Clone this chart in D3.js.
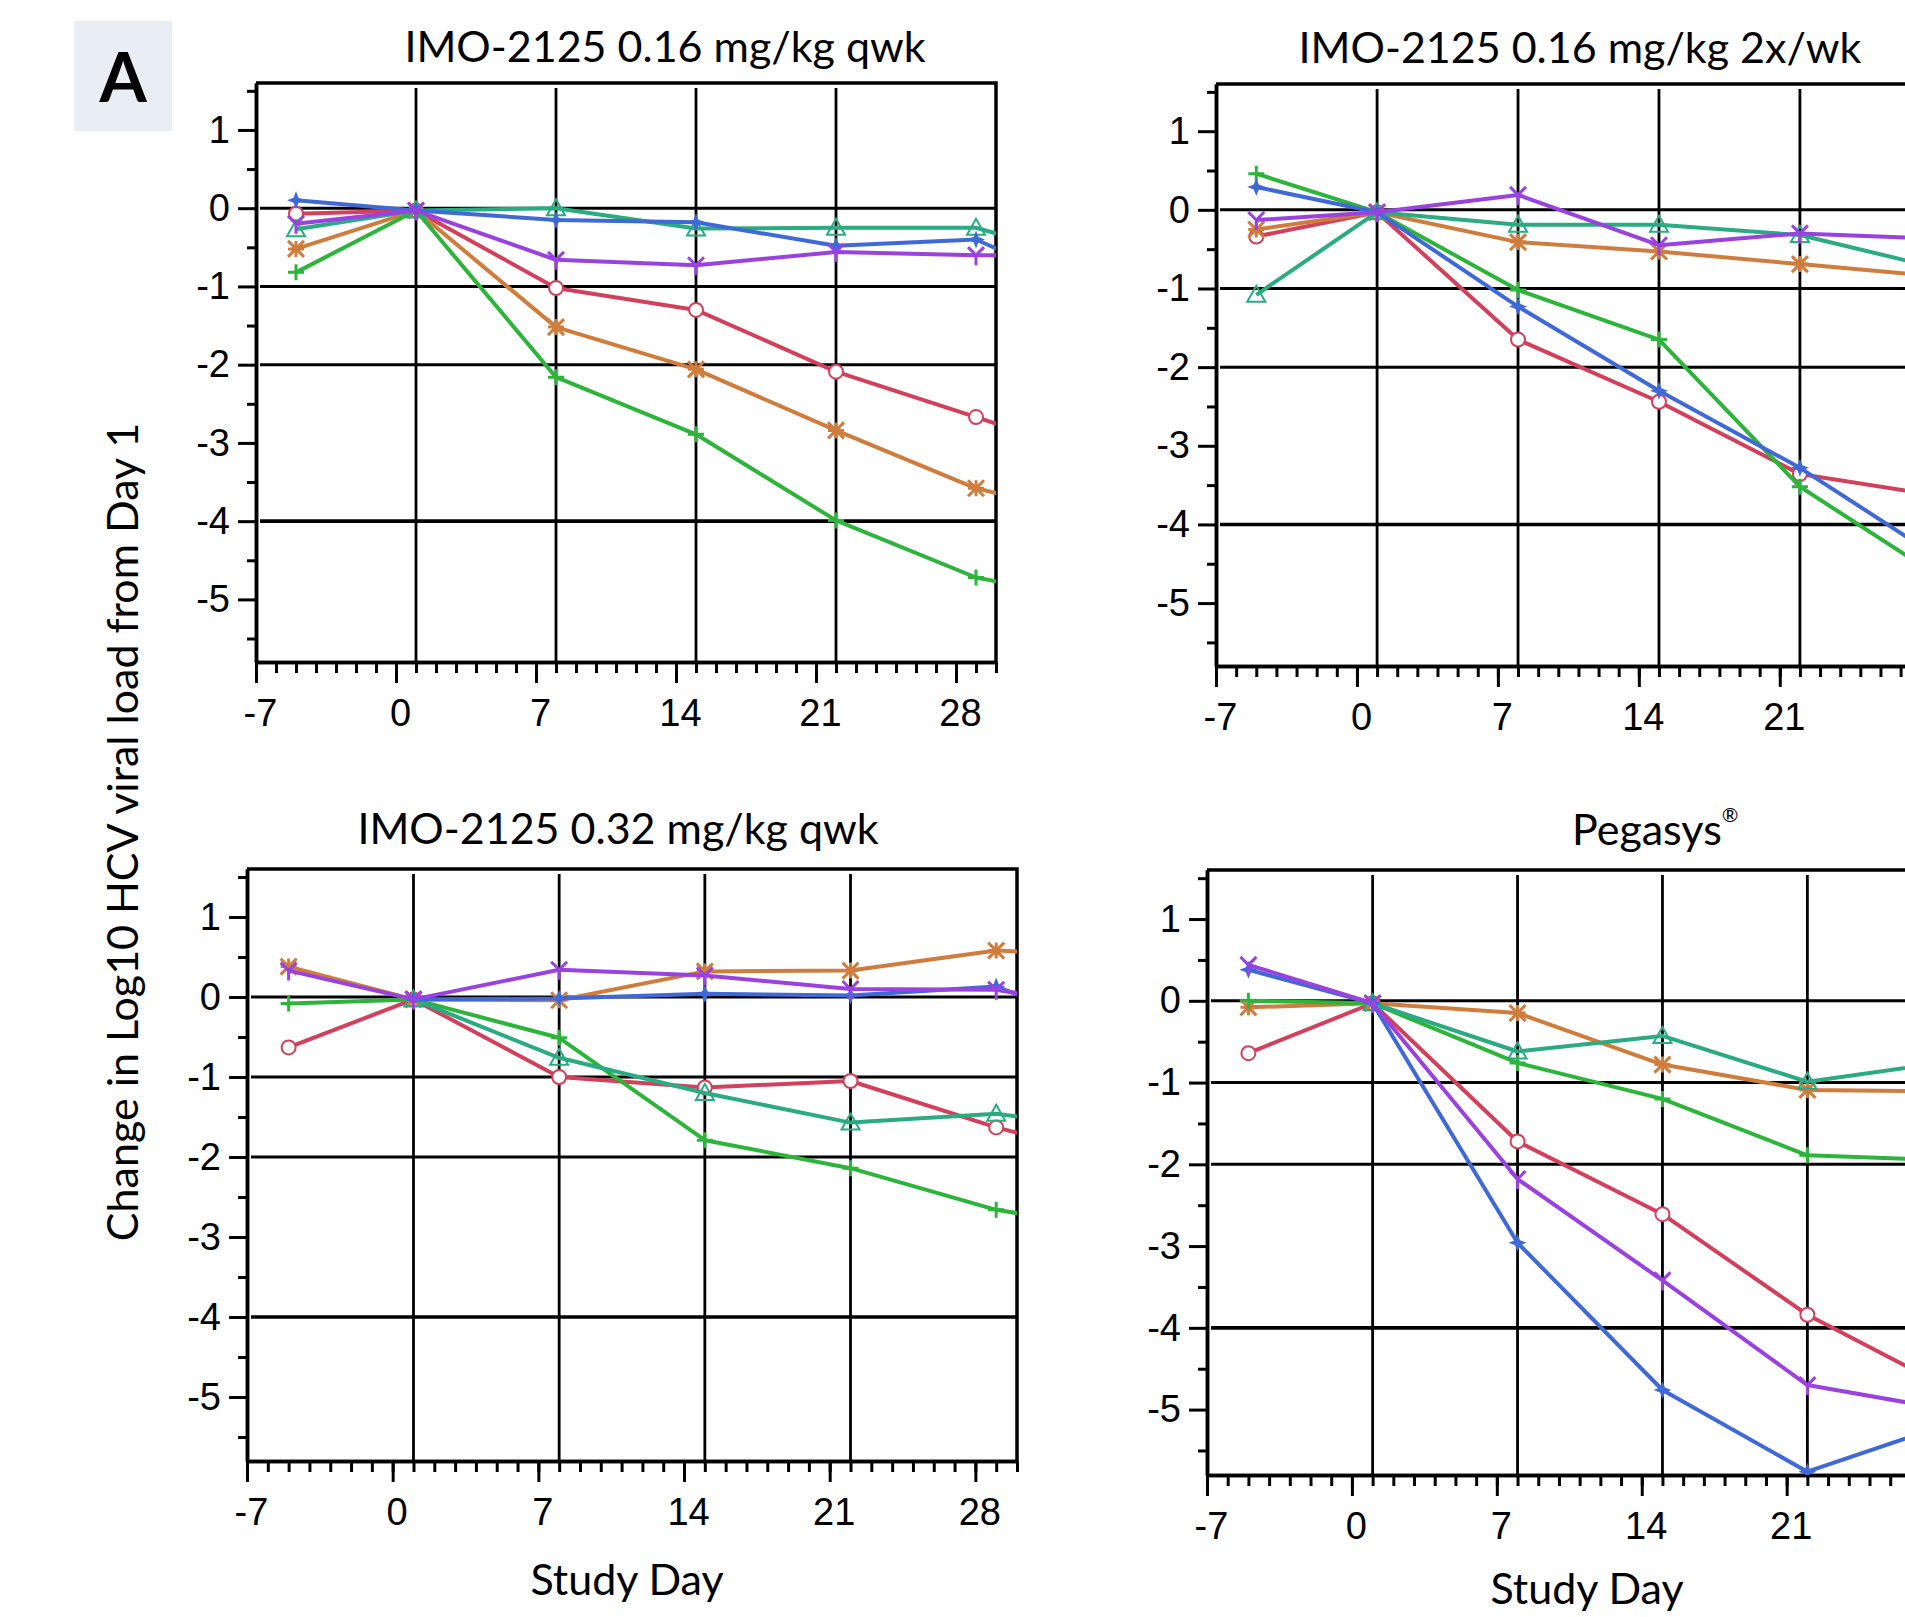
<!DOCTYPE html>
<html>
<head>
<meta charset="utf-8">
<script src="https://cdnjs.cloudflare.com/ajax/libs/d3/7.8.5/d3.min.js"></script>
<style>
  html, body { margin: 0; padding: 0; background: #fff; }
  svg { display: block; }
  .tick text { font-family: "Liberation Sans", Arial, sans-serif; font-size: 38px; fill: #000; }
  .ttl { font-family: Lato, "Open Sans", sans-serif; font-size: 43px; fill: #000; }
</style>
</head>
<body>
<svg id="chart" width="1905" height="1617"></svg>
<script>
// visit days; day 36 is the next visit, only its first piece shows inside the frame
const visitDays = [-5, 1, 8, 15, 22, 29, 36];
const panelTitles = ['IMO-2125 0.16 mg/kg qwk', 'IMO-2125 0.16 mg/kg 2x/wk', 'IMO-2125 0.32 mg/kg qwk', 'Pegasys'];
const xTicks = [-7, 0, 7, 14, 21, 28];
const yTicks = [1, 0, -1, -2, -3, -4, -5];
const gridDays = [1, 8, 15, 22];
const gridValues = [0, -1, -2, -4];

// IMO-2125 0.16 mg/kg qwk
const p1Red    = [-0.07, -0.03, -1.02, -1.30, -2.09, -2.67, -3.25];
const p1Orange = [-0.52, -0.03, -1.52, -2.06, -2.84, -3.58, -4.00];
const p1Green  = [-0.82, -0.03, -2.16, -2.89, -3.99, -4.72, -5.05];
const p1Teal   = [-0.27, -0.03,  0.00, -0.26, -0.25, -0.25, -0.75];
const p1Blue   = [ 0.10, -0.03, -0.15, -0.18, -0.48, -0.40, -1.20];
const p1Purple = [-0.20, -0.03, -0.66, -0.73, -0.56, -0.60, -0.60];

// IMO-2125 0.16 mg/kg 2x/wk
const p2Red    = [-0.34, -0.03, -1.65, -2.44, -3.36, -3.64, null];
const p2Orange = [-0.25, -0.03, -0.41, -0.53, -0.69, -0.85, null];
const p2Green  = [ 0.46, -0.03, -1.02, -1.65, -3.52, -4.68, null];
const p2Teal   = [-1.08, -0.03, -0.19, -0.19, -0.32, -0.75, null];
const p2Blue   = [ 0.29, -0.03, -1.23, -2.30, -3.28, -4.44, null];
const p2Purple = [-0.13, -0.03,  0.19, -0.45, -0.30, -0.37, null];

// IMO-2125 0.32 mg/kg qwk
const p3Red    = [-0.63, -0.03, -1.00, -1.13, -1.05, -1.63, -2.10];
const p3Orange = [ 0.38, -0.03, -0.04,  0.32,  0.33,  0.58,  0.50];
const p3Green  = [-0.08, -0.03, -0.51, -1.79, -2.14, -2.66, -2.95];
const p3Teal   = [ null, -0.03, -0.76, -1.20, -1.57, -1.46, -1.70];
const p3Blue   = [ null, -0.03, -0.02,  0.04,  0.02,  0.13, -0.55];
const p3Purple = [ 0.33, -0.03,  0.34,  0.27,  0.10,  0.09, -0.20];

// Pegasys
const p4Red    = [-0.64, -0.03, -1.72, -2.61, -3.84, -4.76, null];
const p4Orange = [-0.08, -0.03, -0.15, -0.78, -1.09, -1.11, null];
const p4Green  = [ 0.00, -0.03, -0.76, -1.20, -1.89, -1.95, null];
const p4Teal   = [ null, -0.03, -0.62, -0.43, -0.99, -0.74, null];
const p4Blue   = [ 0.38, -0.03, -2.96, -4.76, -5.76, -5.16, null];
const p4Purple = [ 0.44, -0.03, -2.18, -3.42, -4.70, -5.01, null];

const panelSeries = [
  [p1Red, p1Orange, p1Green, p1Teal, p1Blue, p1Purple],
  [p2Red, p2Orange, p2Green, p2Teal, p2Blue, p2Purple],
  [p3Red, p3Orange, p3Green, p3Teal, p3Blue, p3Purple],
  [p4Red, p4Orange, p4Green, p4Teal, p4Blue, p4Purple]
];

const colors = ['#d3405c', '#cf7c3d', '#2db43a', '#2aab82', '#4069d8', '#9a42e0'];
const markers = ['circle', 'asterisk', 'plus', 'triangle', 'star', 'wye'];

// frame of each panel in page pixels
const layout = [
  { left: 256, right: 996, top: 83, bottom: 662, tx: 665, ty: 62 },
  { left: 1216, right: 1961, top: 84, bottom: 666, tx: 1580, ty: 63 },
  { left: 247, right: 1017, top: 869, bottom: 1461, tx: 618, ty: 844 },
  { left: 1207, right: 1973, top: 870, bottom: 1475, tx: 1650, ty: 845 }
];

const svg = d3.select('#chart');
svg.append('rect').attr('width', 1905).attr('height', 1617).attr('fill', '#fff');

// panel letter
svg.append('rect').attr('x', 74).attr('y', 21).attr('width', 98).attr('height', 110).attr('fill', '#e9edf4');
svg.append('text').attr('x', 123).attr('y', 102).attr('text-anchor', 'middle')
  .attr('font-family', 'Lato, sans-serif').attr('font-weight', 700).attr('font-size', 68).text('A');

// shared y title
svg.append('text').attr('class', 'ttl')
  .attr('transform', 'translate(138,832) rotate(-90)')
  .attr('text-anchor', 'middle')
  .text('Change in Log10 HCV viral load from Day 1');

function drawMarker(g, type, color) {
  const s = 8;
  if (type === 'circle') {
    g.append('circle').attr('r', 7).attr('fill', '#fff').attr('stroke', color).attr('stroke-width', 2);
  } else if (type === 'triangle') {
    g.append('path').attr('d', `M0,${-s - 1}L${s + 1},${s - 1}L${-s - 1},${s - 1}Z`).attr('fill', 'none').attr('stroke', color).attr('stroke-width', 2);
  } else if (type === 'star') {
    g.append('path').attr('d', `M0,${-s - 1}L2.5,-2.5L${s + 1},0L2.5,2.5L0,${s + 1}L-2.5,2.5L${-s - 1},0L-2.5,-2.5Z`).attr('fill', color);
  } else {
    let d;
    if (type === 'plus') d = `M${-s},0H${s}M0,${-s}V${s}`;
    if (type === 'asterisk') d = `M${-s},0H${s}M0,${-s}V${s}M${-s},${-s}L${s},${s}M${-s},${s}L${s},${-s}`;
    if (type === 'wye') d = `M0,0L${-s},${-s}M0,0L${s},${-s}M0,0V${s + 2}`;
    g.append('path').attr('d', d).attr('fill', 'none').attr('stroke', color).attr('stroke-width', 3);
  }
}

layout.forEach((L, pi) => {
  const x = d3.scaleLinear().domain([-7, 30]).range([L.left, L.right]);
  const y = d3.scaleLinear().domain([-5.8, 1.6]).range([L.bottom, L.top]);
  const panel = svg.append('g');

  // title
  if (pi === 3) {
    const t = panel.append('text').attr('class', 'ttl').attr('x', 1572).attr('y', L.ty);
    t.append('tspan').text(panelTitles[pi]);
    t.append('tspan').attr('font-size', 20).attr('dy', -23).text('®');
  } else {
    panel.append('text').attr('class', 'ttl').attr('x', L.tx).attr('y', L.ty)
      .attr('text-anchor', 'middle').text(panelTitles[pi]);
  }

  // grid
  panel.append('g').selectAll('line').data(gridDays).join('line')
    .attr('x1', d => x(d)).attr('x2', d => x(d))
    .attr('y1', L.top + 5).attr('y2', L.bottom)
    .attr('stroke', '#000').attr('stroke-width', 2.8);
  panel.append('g').selectAll('line').data(gridValues).join('line')
    .attr('x1', L.left + 4).attr('x2', L.right)
    .attr('y1', d => y(d)).attr('y2', d => y(d))
    .attr('stroke', '#000').attr('stroke-width', d => d === -4 ? 3.6 : 3);

  // top and right border
  panel.append('path')
    .attr('d', `M${L.left},${L.top}H${L.right}V${L.bottom}`)
    .attr('fill', 'none').attr('stroke', '#000').attr('stroke-width', 3.5);

  // axes: minor ticks then major ticks with labels (labels past the page edge are left out)
  const minorY = d3.range(-5.5, 1.6, 1);
  const minorX = d3.range(-6, 31, 1);
  const shownX = xTicks.filter(d => x(d) + 25 < 1905);
  panel.append('g').attr('transform', `translate(${L.left},0)`)
    .call(d3.axisLeft(y).tickValues(minorY).tickFormat('').tickSize(9).tickSizeOuter(0));
  panel.append('g').attr('transform', `translate(${L.left},0)`)
    .call(d3.axisLeft(y).tickValues(yTicks).tickFormat(d3.format('d')).tickSize(18).tickPadding(8).tickSizeOuter(0));
  panel.append('g').attr('transform', `translate(0,${L.bottom})`)
    .call(d3.axisBottom(x).tickValues(minorX).tickFormat('').tickSize(11).tickSizeOuter(0));
  panel.append('g').attr('transform', `translate(0,${L.bottom})`)
    .call(d3.axisBottom(x).tickValues(shownX).tickFormat(d3.format('d')).tickSize(21).tickPadding(16).tickSizeOuter(0))
    .selectAll('text').attr('dx', 4);
  panel.selectAll('.domain').attr('stroke', '#000').attr('stroke-width', 3.5);
  panel.selectAll('.tick line').attr('stroke', '#000').attr('stroke-width', 3);
  panel.selectAll('.tick text').text(function () { return this.textContent.replace('−', '-'); });

  if (pi >= 2) {
    panel.append('text').attr('class', 'ttl')
      .attr('x', pi === 2 ? 627 : 1587).attr('y', pi === 2 ? 1595 : 1604)
      .attr('text-anchor', 'middle').text('Study Day');
  }

  // data
  const clipId = 'clip' + pi;
  svg.append('clipPath').attr('id', clipId).append('rect')
    .attr('x', L.left).attr('y', L.top).attr('width', L.right - L.left).attr('height', L.bottom - L.top);
  const plot = panel.append('g').attr('clip-path', `url(#${clipId})`);

  const line = d3.line()
    .defined(d => d[1] !== null)
    .x(d => x(d[0])).y(d => y(d[1]));

  panelSeries[pi].forEach((vals, si) => {
    const pts = visitDays.map((d, i) => [d, vals[i]]).filter(p => p[1] !== null);
    plot.append('path').datum(pts).attr('d', line)
      .attr('fill', 'none').attr('stroke', colors[si]).attr('stroke-width', 4)
      .attr('stroke-linejoin', 'round');
    pts.forEach(p => {
      const g = plot.append('g').attr('transform', `translate(${x(p[0])},${y(p[1])})`);
      drawMarker(g, markers[si], colors[si]);
    });
  });
});
</script>
</body>
</html>
